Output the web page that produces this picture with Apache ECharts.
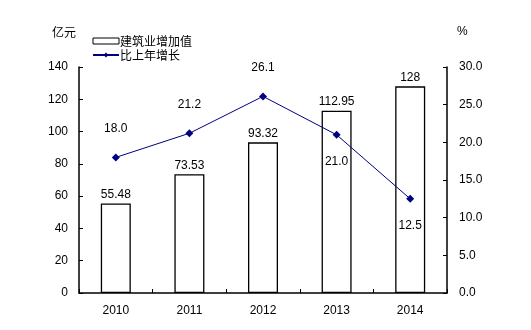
<!DOCTYPE html>
<html><head><meta charset="utf-8">
<script src="https://cdn.jsdelivr.net/npm/echarts@6/dist/echarts.min.js"></script>
<style>html,body{margin:0;padding:0;background:#fff}#c{width:531px;height:330px}</style>
</head><body><div id="c"></div>
<script>
const categories = ['2010','2011','2012','2013','2014'];
const valueAdded = [55.48, 73.53, 93.32, 112.95, 128];
const growth = [18.0, 21.2, 26.1, 21.0, 12.5];
const growthLabelPos = ['top','top','top','bottom','bottom'];
const leftTicks = [0,20,40,60,80,100,120,140];
const rightTicks = ['0.0','5.0','10.0','15.0','20.0','25.0','30.0'];

const font = '"Liberation Sans", Arial, sans-serif';
const cjk = '"Noto Sans CJK SC", sans-serif';
const chart = echarts.init(document.getElementById('c'));
chart.setOption({
  animation: false,
  backgroundColor: '#fff',
  grid: {left: 79, right: 84, top: 67, bottom: 37, containLabel: false},
  legend: {
    orient: 'vertical', left: 87, top: 30, itemGap: 2, itemWidth: 26, itemHeight: 6,
    textStyle: {fontFamily: cjk, fontSize: 12, color: '#000', padding: [0,0,0,-4]},
    data: [
      {name: '建筑业增加值', icon: 'rect', itemStyle: {color: '#fff', borderColor: '#000', borderWidth: 1}},
      {name: '比上年增长'}
    ]
  },
  graphic: [
    {type: 'text', left: 52, top: 26, style: {text: '亿元', font: '12px ' + cjk, fill: '#000'}},
    {type: 'text', left: 457, top: 26, style: {text: '%', font: '12px ' + font, fill: '#000'}}
  ],
  xAxis: {
    type: 'category', data: categories, boundaryGap: true,
    axisLine: {lineStyle: {color: '#000', width: 1.5}},
    axisTick: {show: true, inside: true, length: 4, alignWithLabel: false, lineStyle: {color: '#000'}},
    axisLabel: {margin: 12, color: '#000', fontFamily: font, fontSize: 12},
    splitLine: {show: false}
  },
  yAxis: [
    {type: 'value', min: leftTicks[0], max: leftTicks[leftTicks.length-1], interval: 20,
     axisLine: {show: true, lineStyle: {color: '#000', width: 1.5}},
     axisTick: {show: true, inside: true, length: 4, lineStyle: {color: '#000'}},
     axisLabel: {margin: 11, color: '#000', fontFamily: font, fontSize: 12},
     splitLine: {show: false}},
    {type: 'value', min: 0, max: 30, interval: 5, position: 'right',
     axisLine: {show: true, lineStyle: {color: '#000', width: 1.5}},
     axisTick: {show: true, inside: true, length: 4, lineStyle: {color: '#000'}},
     axisLabel: {margin: 12, color: '#000', fontFamily: font, fontSize: 12,
       formatter: (v) => rightTicks[Math.round(v/5)]},
     splitLine: {show: false}}
  ],
  series: [
    {name: '建筑业增加值', type: 'bar', yAxisIndex: 0, data: valueAdded, barWidth: 30,
     itemStyle: {color: '#fff', borderColor: '#000', borderWidth: 1.3},
     label: {show: true, position: 'top', distance: 3, color: '#000', fontFamily: font, fontSize: 12,
       formatter: (p) => String(p.value)}},
    {name: '比上年增长', type: 'line', yAxisIndex: 1,
     data: growth.map((v,i) => ({value: v, label: {position: growthLabelPos[i], distance: growthLabelPos[i]==='top'?19:17}})),
     symbol: 'diamond', symbolSize: 8,
     lineStyle: {color: '#000080', width: 1},
     itemStyle: {color: '#000080'},
     label: {show: true, color: '#000', fontFamily: font, fontSize: 12,
       formatter: (p) => p.value.toFixed(1)}}
  ]
});
</script></body></html>
